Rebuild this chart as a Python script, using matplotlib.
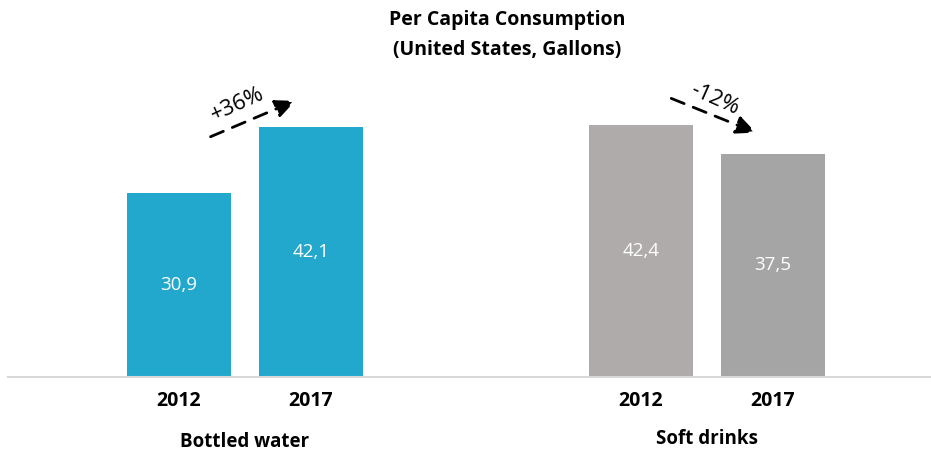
import matplotlib
matplotlib.use("Agg")
import matplotlib.pyplot as plt
from matplotlib.patches import Circle

plt.rcParams['font.family'] = ['Open Sans', 'DejaVu Sans']

# data
years = ["2012", "2017", "2012", "2017"]
values = [30.9, 42.1, 42.4, 37.5]
labels = ["30,9", "42,1", "42,4", "37,5"]
groups = ["Bottled water", "Soft drinks"]
changes = ["+36%", "-12%"]
colors = ["#22A8CD", "#22A8CD", "#AFABAA", "#A5A5A5"]
xpos = [0, 1, 3.5, 4.5]

W, H = 931, 451
fig = plt.figure(figsize=(W / 100, H / 100), dpi=100)
# axes bottom at the baseline (y=377 px)
ax = fig.add_axes([8 / W, 74 / H, 1 - 8 / W, 1 - 74 / H])
ax.set_xlim(-1.295, 5.697)
ax.set_ylim(0, 377 / 5.95)

ax.bar(xpos, values, width=0.79, color=colors, zorder=2)
for x, v, lab in zip(xpos, values, labels):
    ax.text(x, v / 2, lab, color="white", ha="center", va="center", fontsize=13.5)

for s in ["top", "right", "left"]:
    ax.spines[s].set_visible(False)
ax.spines["bottom"].set_color("#D9D9D9")
ax.spines["bottom"].set_linewidth(1.5)
ax.set_yticks([])
ax.set_xticks(xpos)
ax.set_xticklabels(years, fontsize=14, fontweight="bold")
ax.tick_params(axis="x", length=0, pad=10)

# group labels
for (a, b), g in zip([(0, 1), (3.5, 4.5)], groups):
    off = -47 if g == groups[0] else -45
    ax.annotate(g, xy=((a + b) / 2, 0), xycoords="data", xytext=(0, off),
                textcoords="offset points", ha="center", va="center",
                fontsize=13.5, fontweight="bold", annotation_clip=False)

# change arrows
arrow = dict(arrowstyle="-|>,head_length=1.2,head_width=0.55",
             linestyle=(0, (5, 3.5)), lw=2, color="black")
ax.annotate("", xy=(0.9, 46.6), xytext=(0.22, 40.2), arrowprops=arrow,
            annotation_clip=False)
ax.text(0.44, 45.8, changes[0], rotation=24, fontsize=16, ha="center", va="center")

ax.annotate("", xy=(4.39, 40.9), xytext=(3.71, 47.0), arrowprops=arrow,
            annotation_clip=False)
ax.text(4.06, 46.6, changes[1], rotation=-24, fontsize=16, ha="center", va="center")

fig.text(507 / W, 1 - 35 / H, "Per Capita Consumption\n(United States, Gallons)",
         ha="center", va="center", fontsize=14, fontweight="bold", linespacing=1.65)

# partial logo circle at top-left
fig.patches.append(Circle((27 / W, 1 + 9 / H), 12 / W, transform=fig.transFigure,
                          color="#22A8CD", clip_on=False))

fig.savefig("out.png", dpi=100)
